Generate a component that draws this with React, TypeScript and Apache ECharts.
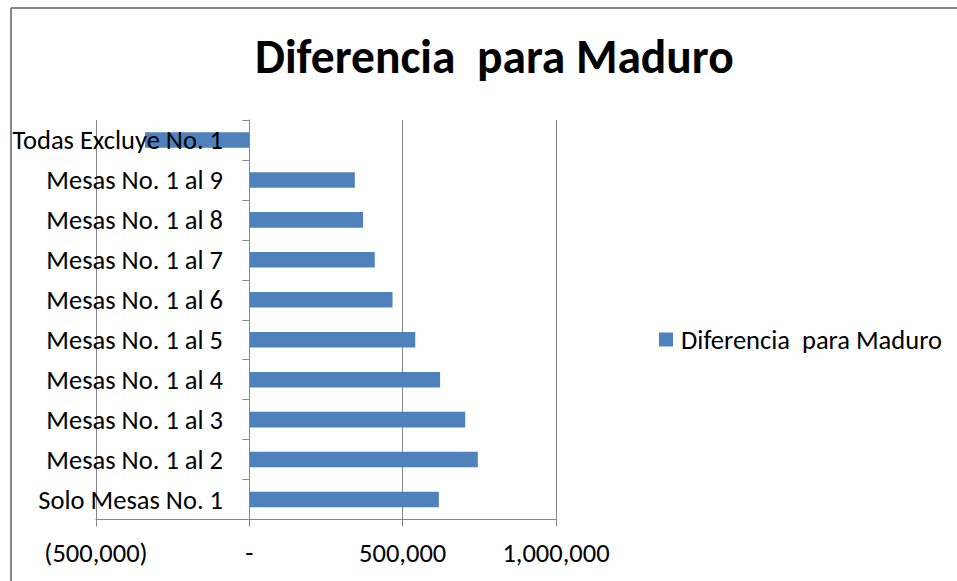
import React, { useEffect, useRef } from "react";
import * as echarts from "echarts";

const TITLE = "Diferencia  para Maduro";
const SERIES_NAME = "Diferencia  para Maduro";
const categories = [
  "Solo Mesas No. 1",
  "Mesas No. 1 al 2",
  "Mesas No. 1 al 3",
  "Mesas No. 1 al 4",
  "Mesas No. 1 al 5",
  "Mesas No. 1 al 6",
  "Mesas No. 1 al 7",
  "Mesas No. 1 al 8",
  "Mesas No. 1 al 9",
  "Todas Excluye No. 1",
];
const values = [618000, 745000, 704000, 622000, 541000, 467000, 409000, 371000, 344000, -340000];
const X_MIN = -500000;
const X_MAX = 1000000;
const X_STEP = 500000;

const FONT = "Carlito, 'Open Sans', sans-serif";
const GRAY = "#868686";
const BLUE = "#4F81BD";

function fmt(v: number): string {
  if (v === 0) return "-";
  const s = Math.abs(v).toLocaleString("en-US");
  return v < 0 ? "(" + s + ")" : s;
}

export default function App() {
  const ref = useRef<HTMLDivElement>(null);
  useEffect(() => {
    if (!ref.current) return;
    const chart = echarts.init(ref.current, undefined, { renderer: "svg" });
    chart.setOption({
      animation: false,
      backgroundColor: "#ffffff",
      title: {
        text: TITLE,
        left: 255,
        top: 33,
        padding: 0,
        textStyle: { fontFamily: FONT, fontWeight: "bold", fontSize: 47.5, color: "#000" },
      },
      graphic: [
        { type: "line", shape: { x1: 11, y1: 8, x2: 960, y2: 8 }, style: { stroke: GRAY, lineWidth: 2 } },
        { type: "line", shape: { x1: 11, y1: 8, x2: 11, y2: 590 }, style: { stroke: GRAY, lineWidth: 2 } },
      ],
      legend: {
        left: 659,
        top: 326,
        padding: 0,
        itemWidth: 14,
        itemHeight: 14,
        icon: "rect",
        textStyle: { fontFamily: FONT, fontSize: 26.5, color: "#000", padding: [0, 0, 0, 3] },
        data: [SERIES_NAME],
      },
      grid: {
        left: 96,
        right: 401,
        top: 120,
        bottom: 61.5,
        containLabel: false,
        outerBoundsMode: "none",
      },
      xAxis: {
        type: "value",
        min: X_MIN,
        max: X_MAX,
        interval: X_STEP,
        axisLine: { show: true, lineStyle: { color: GRAY, width: 1 } },
        axisTick: { show: true, length: 7, lineStyle: { color: GRAY } },
        splitLine: { show: true, lineStyle: { color: GRAY, width: 1 } },
        axisLabel: {
          formatter: fmt,
          fontFamily: FONT,
          fontSize: 26.5,
          color: "#000",
          margin: 20,
        },
      },
      yAxis: {
        type: "category",
        data: categories,
        z: 5,
        axisLine: { show: true, onZero: true, lineStyle: { color: GRAY, width: 1 } },
        axisTick: { show: true, length: 7, lineStyle: { color: GRAY } },
        axisLabel: { fontFamily: FONT, fontSize: 26.5, color: "#000", margin: -127 },
      },
      series: [
        {
          name: SERIES_NAME,
          type: "bar",
          data: values,
          barCategoryGap: "61%",
          itemStyle: { color: BLUE },
        },
      ],
    });
    return () => chart.dispose();
  }, []);
  return (
    <div
      ref={ref}
      style={{ position: "absolute", left: 0, top: 0, width: 957, height: 581 }}
    />
  );
}
